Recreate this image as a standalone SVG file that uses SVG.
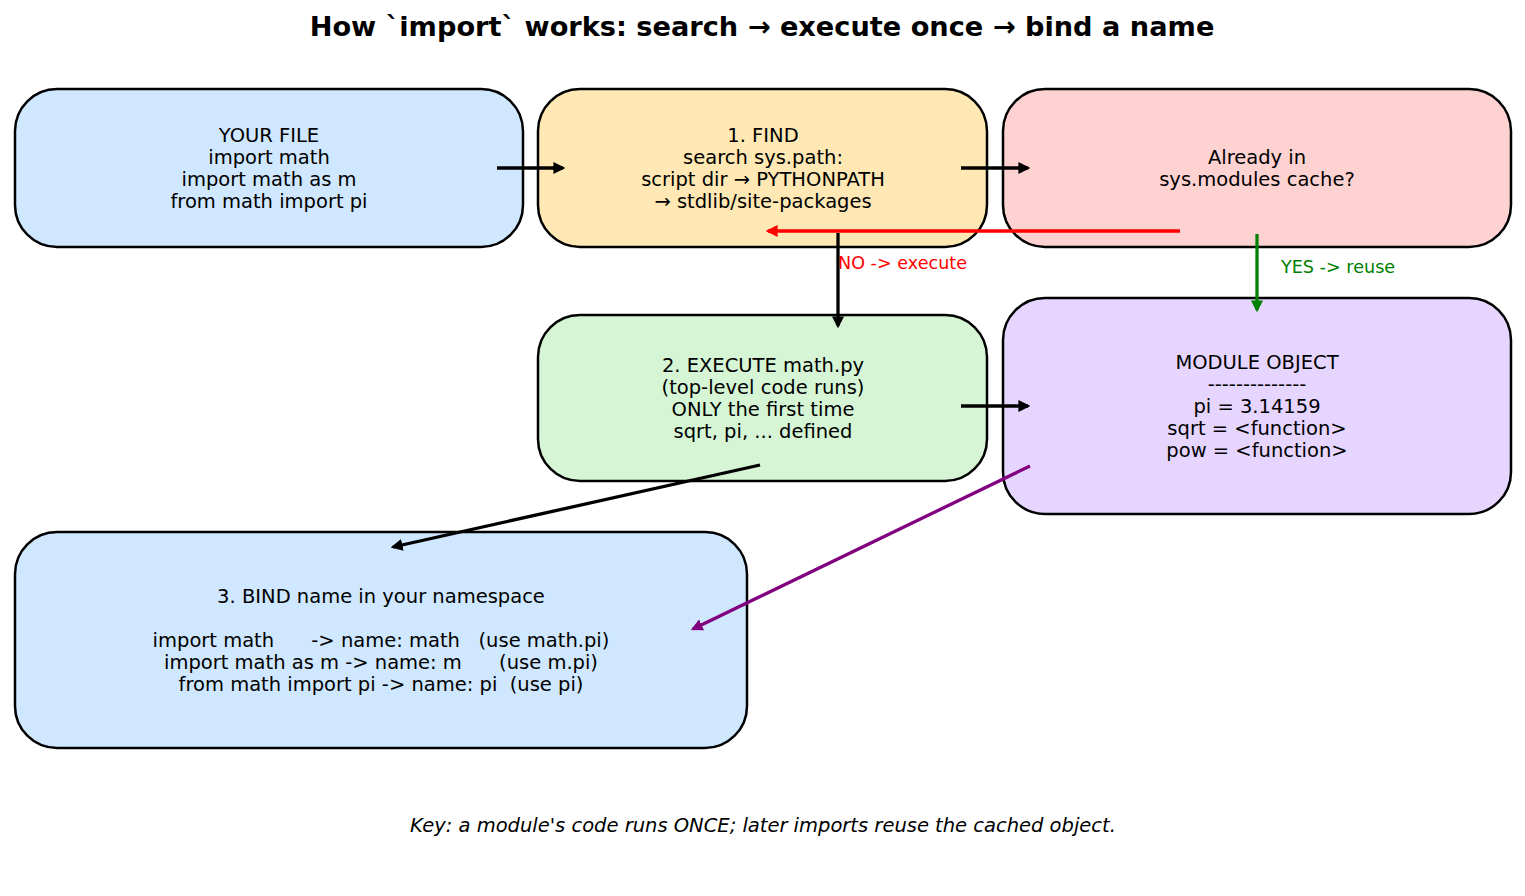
<svg xmlns="http://www.w3.org/2000/svg" width="1525" height="896" viewBox="0 0 1525 896">
<style>
text{font-family:"DejaVu Sans",sans-serif;font-size:19.5px;fill:#000;text-anchor:middle;white-space:pre}
.box{stroke:#000;stroke-width:2.5}
.title{font-size:27.2px;font-weight:bold}
.key{font-style:italic}
.lbl{font-size:17.6px;text-anchor:start}
.c{fill:none;stroke-width:3.3}
</style>
<defs>
<marker id="ak" viewBox="0 0 10 10" refX="8" refY="5" markerWidth="12" markerHeight="12" markerUnits="userSpaceOnUse" orient="auto"><path d="M0,0 L10,5 L0,10 z" fill="#000"/></marker>
<marker id="ar" viewBox="0 0 10 10" refX="8" refY="5" markerWidth="12" markerHeight="12" markerUnits="userSpaceOnUse" orient="auto"><path d="M0,0 L10,5 L0,10 z" fill="#ff0000"/></marker>
<marker id="ag" viewBox="0 0 10 10" refX="8" refY="5" markerWidth="12" markerHeight="12" markerUnits="userSpaceOnUse" orient="auto"><path d="M0,0 L10,5 L0,10 z" fill="#008000"/></marker>
<marker id="ap" viewBox="0 0 10 10" refX="8" refY="5" markerWidth="12" markerHeight="12" markerUnits="userSpaceOnUse" orient="auto"><path d="M0,0 L10,5 L0,10 z" fill="#800080"/></marker>
</defs>
<rect width="1525" height="896" fill="#fff"/>
<text class="title" x="762" y="36">How `import` works: search → execute once → bind a name</text>

<g id="yourfile">
<rect class="box" x="15" y="89" width="508" height="158" rx="42" fill="#cfe7ff"/>
<text x="269" y="142">YOUR FILE</text>
<text x="269" y="164">import math</text>
<text x="269" y="186">import math as m</text>
<text x="269" y="208">from math import pi</text>
</g>
<g id="find">
<rect class="box" x="538" y="89" width="449" height="158" rx="42" fill="#ffe8b3"/>
<text x="763" y="142">1. FIND</text>
<text x="763" y="164">search sys.path:</text>
<text x="763" y="186">script dir → PYTHONPATH</text>
<text x="763" y="208">→ stdlib/site-packages</text>
</g>
<g id="cache">
<rect class="box" x="1003" y="89" width="508" height="158" rx="42" fill="#ffd2d2"/>
<text x="1257" y="164">Already in</text>
<text x="1257" y="186">sys.modules cache?</text>
</g>
<g id="execute">
<rect class="box" x="538" y="315" width="449" height="166" rx="42" fill="#d5f5d5"/>
<text x="763" y="372">2. EXECUTE math.py</text>
<text x="763" y="394">(top-level code runs)</text>
<text x="763" y="416">ONLY the first time</text>
<text x="763" y="438">sqrt, pi, ... defined</text>
</g>
<g id="module">
<rect class="box" x="1003" y="298" width="508" height="216" rx="42" fill="#e6d6ff"/>
<text x="1257" y="369">MODULE OBJECT</text>
<text x="1257" y="391">--------------</text>
<text x="1257" y="413">pi = 3.14159</text>
<text x="1257" y="435">sqrt = &lt;function&gt;</text>
<text x="1257" y="457">pow = &lt;function&gt;</text>
</g>
<g id="bind">
<rect class="box" x="15" y="532" width="732" height="216" rx="42" fill="#cfe7ff"/>
<text x="381" y="603">3. BIND name in your namespace</text>
<text x="381" y="647" xml:space="preserve">import math      -&gt; name: math   (use math.pi)</text>
<text x="381" y="669" xml:space="preserve">import math as m -&gt; name: m      (use m.pi)</text>
<text x="381" y="691" xml:space="preserve">from math import pi -&gt; name: pi  (use pi)</text>
</g>

<g id="connectors">
<line class="c" x1="497" y1="168" x2="563" y2="168" stroke="#000" marker-end="url(#ak)"/>
<line class="c" x1="961" y1="168" x2="1028" y2="168" stroke="#000" marker-end="url(#ak)"/>
<line class="c" x1="1180" y1="231" x2="768" y2="231" stroke="#ff0000" marker-end="url(#ar)"/>
<line class="c" x1="838" y1="233" x2="838" y2="326" stroke="#000" marker-end="url(#ak)"/>
<line class="c" x1="1257" y1="234" x2="1257" y2="310" stroke="#008000" marker-end="url(#ag)"/>
<line class="c" x1="961" y1="406" x2="1028" y2="406" stroke="#000" marker-end="url(#ak)"/>
<line class="c" x1="760" y1="465" x2="393" y2="547" stroke="#000" marker-end="url(#ak)"/>
<line class="c" x1="1030" y1="466" x2="693" y2="629" stroke="#800080" marker-end="url(#ap)"/>
<text class="lbl" x="838" y="269" style="fill:#ff0000">NO -&gt; execute</text>
<text class="lbl" x="1281" y="273" style="fill:#008000">YES -&gt; reuse</text>
</g>

<text class="key" x="763" y="832">Key: a module's code runs ONCE; later imports reuse the cached object.</text>
</svg>
